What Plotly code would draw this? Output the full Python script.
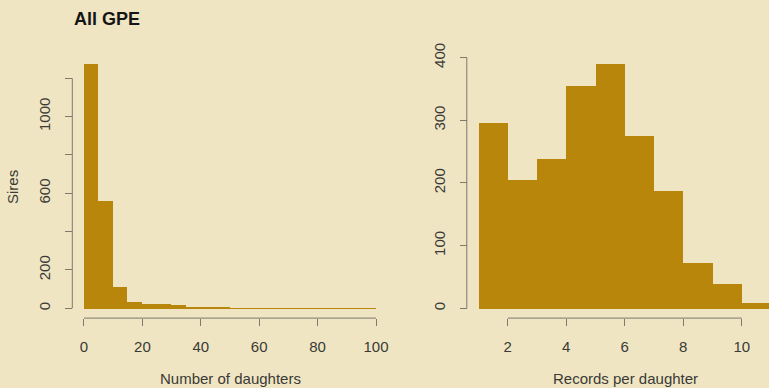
import plotly.graph_objects as go

# Histogram 1: number of daughters per sire (bin edges every 5)
daughter_edges = [0, 5, 10, 15, 20, 25, 30, 35, 40, 45, 50, 55, 60, 65, 70,
                  75, 80, 85, 90, 95, 100]
daughter_counts = [1278, 561, 116, 35, 26, 23, 22, 9, 8, 6, 3, 3, 4, 2, 2,
                   1, 1, 1, 1, 1]
daughter_ticks = [0, 20, 40, 60, 80, 100]
sire_ticks = [0, 200, 400, 600, 800, 1000, 1200]
sire_ticklabels = ["0", "200", "", "600", "", "1000", ""]

# Histogram 2: records per daughter (bin edges every 1)
record_edges = [1, 2, 3, 4, 5, 6, 7, 8, 9, 10, 11]
record_counts = [296, 205, 239, 356, 391, 276, 188, 73, 39, 10]
record_ticks = [2, 4, 6, 8, 10]
record_yticks = [0, 100, 200, 300, 400]

BG = "#EFE5C3"
BAR = "#B8860B"
INK = "#3a3a36"
AXIS = "#7d7a6c"
FONT = "Liberation Sans"
W, H = 769, 388


def centers(edges):
    return [(a + b) / 2 for a, b in zip(edges[:-1], edges[1:])]


def widths(edges):
    return [b - a for a, b in zip(edges[:-1], edges[1:])]


fig = go.Figure()
fig.add_trace(go.Bar(x=centers(daughter_edges), y=daughter_counts,
                     width=widths(daughter_edges), marker_color=BAR,
                     marker_line_width=0, xaxis="x", yaxis="y"))
fig.add_trace(go.Bar(x=centers(record_edges), y=record_counts,
                     width=widths(record_edges), marker_color=BAR,
                     marker_line_width=0, xaxis="x2", yaxis="y2"))

# plot regions (pixels) and R-style 4% padded ranges
y_dom = [(H - 318.1) / H, (H - 53.5) / H]
x1_dom = [72.3 / W, 387.7 / W]
x2_dom = [466.8 / W, 1.0]


def padded(lo, hi):
    d = (hi - lo) * 0.04
    return [lo - d, hi + d]


x1_range = padded(daughter_edges[0], daughter_edges[-1])
y1_range = padded(0, max(daughter_counts))
x2_lo = padded(record_edges[0], record_edges[-1])[0]
px_per_unit2 = 29.25
x2_range = [x2_lo, x2_lo + (W - 466.8) / px_per_unit2]
y2_range = padded(0, max(record_counts))

tickfont = dict(family=FONT, size=15, color=INK)
common_x = dict(showgrid=False, zeroline=False, showline=False,
                automargin=False,
                ticks="outside", ticklen=7, tickwidth=1, tickcolor=AXIS,
                tickfont=tickfont, anchor="free", position=y_dom[0],
                ticklabelstandoff=8)
common_y = dict(showgrid=False, zeroline=False, showline=False,
                automargin=False,
                ticks="outside", ticklen=7, tickwidth=1, tickcolor=AXIS,
                tickfont=tickfont, anchor="free", tickangle=-90,
                domain=y_dom, ticklabelstandoff=9)

fig.update_layout(
    width=W, height=H, margin=dict(l=0, r=0, t=0, b=0),
    paper_bgcolor=BG, plot_bgcolor=BG, showlegend=False, bargap=0,
    xaxis=dict(common_x, domain=x1_dom, range=x1_range,
               tickvals=daughter_ticks),
    yaxis=dict(common_y, position=x1_dom[0], range=y1_range,
               tickvals=sire_ticks, ticktext=sire_ticklabels),
    xaxis2=dict(common_x, domain=x2_dom, range=x2_range,
                tickvals=record_ticks),
    yaxis2=dict(common_y, position=x2_dom[0], range=y2_range,
                tickvals=record_yticks),
)

# R-style axis lines spanning only first to last tick
fig.add_shape(type="line", xref="x", yref="paper",
              x0=daughter_ticks[0], x1=daughter_ticks[-1],
              y0=y_dom[0], y1=y_dom[0], line=dict(color=AXIS, width=1))
fig.add_shape(type="line", xref="x2", yref="paper",
              x0=record_ticks[0], x1=record_ticks[-1],
              y0=y_dom[0], y1=y_dom[0], line=dict(color=AXIS, width=1))
fig.add_shape(type="line", xref="paper", yref="y",
              x0=x1_dom[0], x1=x1_dom[0],
              y0=sire_ticks[0], y1=sire_ticks[-1],
              line=dict(color=AXIS, width=1))
fig.add_shape(type="line", xref="paper", yref="y2",
              x0=x2_dom[0], x1=x2_dom[0],
              y0=record_yticks[0], y1=record_yticks[-1],
              line=dict(color=AXIS, width=1))

labfont = dict(family=FONT, size=15, color=INK)
fig.add_annotation(text="Number of daughters", xref="x", yref="paper",
                   x=(daughter_ticks[0] + daughter_ticks[-1]) / 2,
                   y=(H - 378) / H, showarrow=False, font=labfont,
                   xanchor="center", yanchor="middle")
fig.add_annotation(text="Records per daughter", xref="paper", yref="paper",
                   x=625 / W, y=(H - 378) / H, showarrow=False, font=labfont,
                   xanchor="center", yanchor="middle")
fig.add_annotation(text="Sires", xref="paper", yref="paper",
                   x=13 / W, y=(H - 187) / H, showarrow=False, font=labfont,
                   textangle=-90, xanchor="center", yanchor="middle")
fig.add_annotation(text="<b>All GPE</b>", xref="paper", yref="paper",
                   x=72 / W, y=(H - 19) / H, showarrow=False,
                   font=dict(family=FONT, size=18, color="#151515"),
                   xanchor="left", yanchor="middle")

fig.write_html("out.html")
